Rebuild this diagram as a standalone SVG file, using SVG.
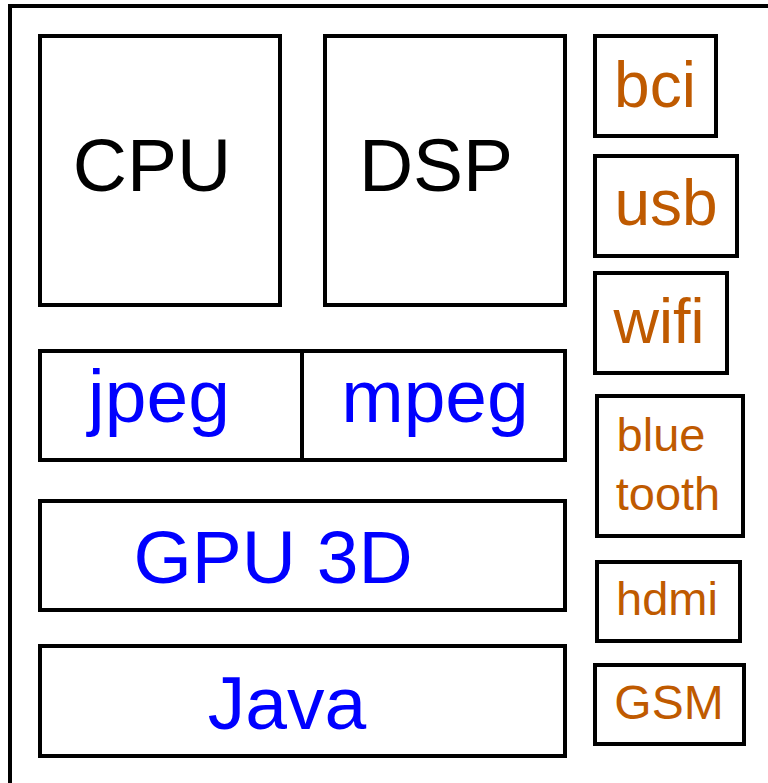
<svg xmlns="http://www.w3.org/2000/svg" width="768" height="783" viewBox="0 0 768 783">
  <style>
    .box { fill: #ffffff; stroke: #000000; stroke-width: 4; }
    .frame { fill: none; stroke: #000000; stroke-width: 4; }
    .big { font-family: "Liberation Sans", Arial, sans-serif; font-size: 75px; text-anchor: middle; }
    .core { fill: #000000; }
    .accel { fill: #0000ff; }
    .io { font-family: "Liberation Sans", Arial, sans-serif; fill: #bf5a00; text-anchor: middle; }
  </style>
  <rect width="768" height="783" fill="#ffffff"/>
  <!-- outer chip outline, continues past the canvas edges -->
  <path class="frame" d="M10,783 V6 H768"/>

  <g id="cpu">
    <rect class="box" x="40" y="36" width="240" height="269"/>
    <text class="big core" x="152" y="191">CPU</text>
  </g>
  <g id="dsp">
    <rect class="box" x="325" y="36" width="240" height="269"/>
    <text class="big core" x="436" y="191">DSP</text>
  </g>
  <g id="jpeg">
    <rect class="box" x="40" y="351" width="262" height="109"/>
    <text class="big accel" x="159" y="422">jpeg</text>
  </g>
  <g id="mpeg">
    <rect class="box" x="302" y="351" width="263" height="109"/>
    <text class="big accel" x="435" y="422">mpeg</text>
  </g>
  <g id="gpu3d">
    <rect class="box" x="40" y="501" width="525" height="109"/>
    <text class="big accel" x="273" y="583">GPU 3D</text>
  </g>
  <g id="java">
    <rect class="box" x="40" y="646" width="525" height="110"/>
    <text class="big accel" x="287" y="729">Java</text>
  </g>

  <g id="bci">
    <rect class="box" x="595" y="36" width="121" height="100"/>
    <text class="io" x="655" y="107" font-size="64">bci</text>
  </g>
  <g id="usb">
    <rect class="box" x="595" y="156" width="142" height="100"/>
    <text class="io" x="666" y="225" font-size="64">usb</text>
  </g>
  <g id="wifi">
    <rect class="box" x="595" y="273" width="132" height="100"/>
    <text class="io" x="659" y="343" font-size="63">wifi</text>
  </g>
  <g id="bluetooth">
    <rect class="box" x="597" y="396" width="146" height="140"/>
    <text class="io" x="661" y="451" font-size="47">blue</text>
    <text class="io" x="668" y="510" font-size="47">tooth</text>
  </g>
  <g id="hdmi">
    <rect class="box" x="597" y="562" width="143" height="79"/>
    <text class="io" x="667" y="615" font-size="47">hdmi</text>
  </g>
  <g id="gsm">
    <rect class="box" x="595" y="665" width="149" height="79"/>
    <text class="io" x="669" y="719" font-size="48">GSM</text>
  </g>

  <g id="connectors"/>
</svg>
